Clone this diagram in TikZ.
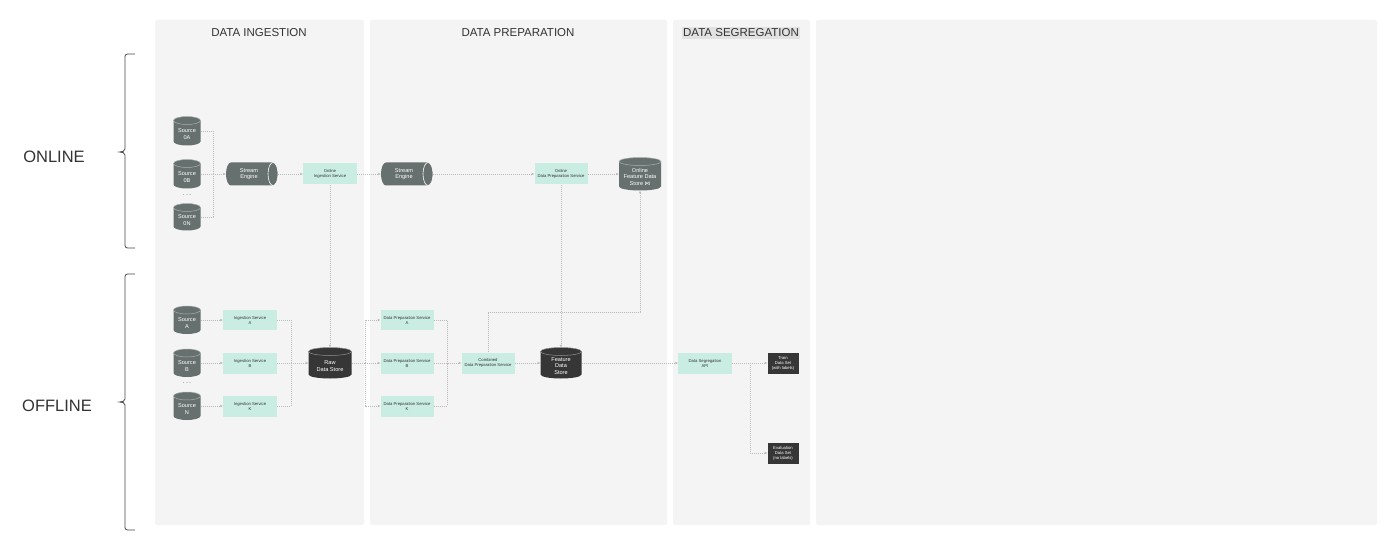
\documentclass[tikz,border=0pt]{standalone}
\usepackage{fontspec}
\setmainfont{Liberation Sans}
\newfontfamily\symfont{DejaVu Sans}
\usetikzlibrary{arrows.meta}
\definecolor{panel}{HTML}{F4F4F4}
\definecolor{hl}{HTML}{E2E2E2}
\definecolor{mint}{HTML}{C9ECE3}
\definecolor{srcgrey}{HTML}{66706E}
\definecolor{darkgrey}{HTML}{363636}
\definecolor{lgrey}{HTML}{BBBBBB}
\definecolor{txt}{HTML}{333333}
\newcommand\vcyl[7]{%
  \pgfmathsetmacro\cylW{#4/2}%
  \pgfmathsetmacro\cylT{#3-#5/2+4}%
  \pgfmathsetmacro\cylB{#3+#5/2-4}%
  \fill[#6] (#2-\cylW,\cylT) -- (#2-\cylW,\cylB)
     arc[start angle=180,end angle=360,x radius=\cylW pt,y radius=4pt]
     -- (#2+\cylW,\cylT)
     arc[start angle=0,end angle=180,x radius=\cylW pt,y radius=4pt] -- cycle;
  \draw[#6!55!white, line width=0.5pt] (#2,\cylT) ellipse[x radius=\cylW pt,y radius=4pt];
  \node[inner sep=0pt, minimum width=#4, minimum height=#5] (#1) at (#2,#3) {};
  \node[cyltxt] (#1-t) at (#2,#3+3) {#7};
}
\newcommand\hcyl[6]{%
  \pgfmathsetmacro\cylL{#2-#4/2+5}%
  \pgfmathsetmacro\cylR{#2+#4/2-5}%
  \pgfmathsetmacro\cylH{#5/2}%
  \fill[srcgrey] (\cylR,#3-\cylH) -- (\cylL,#3-\cylH)
     arc[start angle=90,end angle=270,x radius=5pt,y radius=\cylH pt]
     -- (\cylR,#3+\cylH)
     arc[start angle=-90,end angle=90,x radius=5pt,y radius=\cylH pt] -- cycle;
  \draw[white, line width=0.6pt] (\cylR,#3) ellipse[x radius=5pt,y radius=\cylH pt];
  \node[inner sep=0pt, minimum width=#4, minimum height=#5] (#1) at (#2,#3) {};
  \node[cyltxt] (#1-t) at (#2-3,#3) {#6};
}
\begin{document}
\begin{tikzpicture}[x=1pt,y=-1pt,
  cyltxt/.style={inner sep=0pt, text=white, align=center, font=\fontsize{5.6}{6.4}\selectfont},
  svc/.style={fill=mint, inner sep=0pt, minimum width=54, minimum height=21, align=center, text=txt, font=\fontsize{4.2}{5}\selectfont},
  dbox/.style={fill=darkgrey, inner sep=0pt, minimum width=31, minimum height=21, align=center, text=white, font=\fontsize{4.2}{5}\selectfont},
  hdr/.style={text=txt, font=\fontsize{11.5}{13}\selectfont, inner sep=1.5pt},
  side/.style={text=txt, font=\fontsize{16.5}{18}\selectfont},
  dots/.style={text=srcgrey, font=\fontsize{7}{7}\selectfont, inner sep=0pt},
  brace/.style={draw=txt!90, line width=0.8pt},
  conn/.style={draw=lgrey, line width=0.6pt, dash pattern=on 1.2pt off 0.8pt},
  arr/.style={conn, -{Stealth[length=3pt,width=2.6pt]}}]
\useasboundingbox (0,0) rectangle (1400,553);
\fill[white] (0,0) rectangle (1400,553);
% panels
\fill[panel, rounded corners=2pt] (155,20) rectangle (364,525);
\fill[panel, rounded corners=2pt] (370,20) rectangle (667,525);
\fill[panel, rounded corners=2pt] (673,20) rectangle (810,525);
\fill[panel, rounded corners=2pt] (816,20) rectangle (1377,525);
% headers
\node[hdr] (h1) at (259,33) {DATA INGESTION};
\node[hdr] (h2) at (518,33) {DATA PREPARATION};
\node[hdr, fill=hl] (h3) at (741,33) {DATA SEGREGATION};
% side labels and braces
\node[side] (on) at (54,157) {ONLINE};
\node[side] (off) at (57,406) {OFFLINE};
\draw[brace] (135,54) -- (127.5,54) to[out=180,in=90] (125,56.5) -- (125,149)
   to[out=-90,in=0] (119.5,152) to[out=0,in=90] (125,155) -- (125,245.5)
   to[out=-90,in=180] (127.5,248) -- (135,248);
\draw[brace] (135,274) -- (127.5,274) to[out=180,in=90] (125,276.5) -- (125,399)
   to[out=-90,in=0] (119.5,402) to[out=0,in=90] (125,405) -- (125,527.5)
   to[out=-90,in=180] (127.5,530) -- (135,530);
% online row
\vcyl{s0a}{187}{131}{27}{29}{srcgrey}{Source\\0A}
\vcyl{s0b}{187}{174}{27}{29}{srcgrey}{Source\\0B}
\node[dots] (d0) at (187,195) {.\,.\,.};
\vcyl{s0n}{187}{217}{27}{27}{srcgrey}{Source\\0N}
\hcyl{se1}{252}{174}{52}{23}{Stream\\Engine}
\node[svc] (oing) at (330,174) {Online\\Ingestion Service};
\hcyl{se2}{407}{174}{52}{23}{Stream\\Engine}
\node[svc, minimum width=53] (oprep) at (561,174) {Online\\Data Preparation Service};
\vcyl{ofs}{640}{174}{42}{33}{srcgrey}{Online\\Feature Data\\Store {\symfont ⋈}}
% offline row
\vcyl{sA}{187}{320}{27}{28}{srcgrey}{Source\\A}
\vcyl{sB}{187}{363}{27}{28}{srcgrey}{Source\\B}
\node[dots] (d1) at (187,383) {.\,.\,.};
\vcyl{sN}{187}{406}{27}{28}{srcgrey}{Source\\N}
\node[svc, minimum height=20] (ingA) at (250,320) {Ingestion Service\\A};
\node[svc] (ingB) at (250,363) {Ingestion Service\\B};
\node[svc] (ingK) at (250,406) {Ingestion Service\\K};
\vcyl{raw}{330}{363}{43}{31}{darkgrey}{Raw\\Data Store}
\node[svc, minimum width=53, minimum height=20] (prepA) at (407,320) {Data Preparation Service\\A};
\node[svc, minimum width=53] (prepB) at (407,363) {Data Preparation Service\\B};
\node[svc, minimum width=53] (prepK) at (407,406) {Data Preparation Service\\K};
\node[svc, minimum width=53] (comb) at (488,363) {Combined\\Data Preparation Service};
\vcyl{fds}{561}{363}{41}{31}{darkgrey}{Feature\\Data\\Store}
\node[svc] (seg) at (705,363) {Data Segregation\\API};
\node[dbox] (train) at (783,363) {Train\\Data Set\\(with labels)};
\node[dbox] (eval) at (783,453) {Evaluation\\Data Set\\(no labels)};
% connectors online
\coordinate (m1) at (213,174);
\draw[conn] (s0a.east) -| (m1);
\draw[conn] (s0n.east) -| (m1);
\draw[arr] (s0b.east) -- (se1.west);
\draw[arr] (se1.east) -- (oing.west);
\draw[arr] (oing.east) -- (se2.west);
\draw[arr] (se2.east) -- (oprep.west);
\draw[arr] (oprep.east) -- (ofs.west);
\draw[arr] (oing.south) -- (raw.north);
\draw[arr] (oprep.south) -- (fds.north);
% connectors offline
\draw[arr] (sA.east) -- (ingA.west);
\draw[arr] (sB.east) -- (ingB.west);
\draw[arr] (sN.east) -- (ingK.west);
\coordinate (m2) at (291,363);
\draw[conn] (ingA.east) -| (m2);
\draw[conn] (ingK.east) -| (m2);
\draw[arr] (ingB.east) -- (raw.west);
\coordinate (m3) at (365,363);
\draw[conn] (raw.east) -- (m3);
\draw[arr] (m3) |- (prepA.west);
\draw[arr] (m3) -- (prepB.west);
\draw[arr] (m3) |- (prepK.west);
\coordinate (m4) at (447,363);
\draw[conn] (prepA.east) -| (m4);
\draw[conn] (prepK.east) -| (m4);
\draw[arr] (prepB.east) -- (comb.west);
\draw[arr] (comb.east) -- (fds.west);
\coordinate (m5) at (640,312);
\draw[arr] (comb.north) |- (m5) -- (ofs.south);
\draw[arr] (fds.east) -- (seg.west);
\draw[arr] (seg.east) -- (train.west);
\coordinate (m6) at (750,363);
\draw[arr] (m6) |- (eval.west);
\end{tikzpicture}
\end{document}
